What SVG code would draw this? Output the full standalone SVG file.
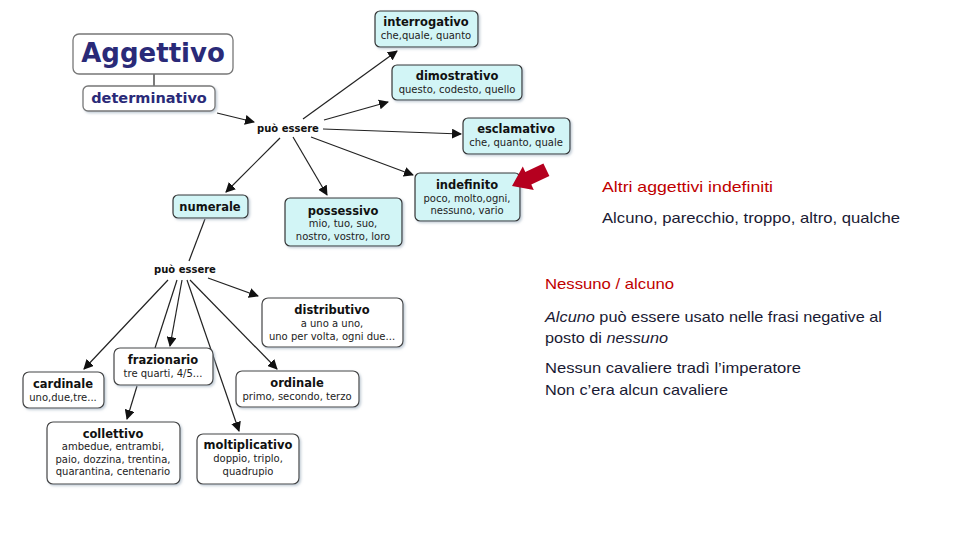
<svg xmlns="http://www.w3.org/2000/svg" width="960" height="540" viewBox="0 0 960 540">
<defs>
<marker id="ah" viewBox="0 0 10 10" refX="9" refY="5" markerWidth="10" markerHeight="10" markerUnits="userSpaceOnUse" orient="auto">
<path d="M0,0 L10,5 L0,10 z" fill="#111"/>
</marker>
<filter id="sh" x="-10%" y="-10%" width="130%" height="140%">
<feDropShadow dx="1.5" dy="1.5" stdDeviation="1" flood-color="#9ab" flood-opacity="0.6"/>
</filter>
</defs>
<style>
.cy{fill:#d2f5f6;stroke:#333;stroke-width:1.2}
.wh{fill:#fff;stroke:#444;stroke-width:1.2}
.t{font-family:"DejaVu Sans",Verdana,sans-serif;font-weight:bold;font-size:11.5px;fill:#111;text-anchor:middle}
.s{font-family:"DejaVu Sans",Verdana,sans-serif;font-size:10px;fill:#222;text-anchor:middle}
.pe{font-family:"DejaVu Sans",Verdana,sans-serif;font-weight:bold;font-size:10px;fill:#111;text-anchor:middle}
.c line,.c path{stroke:#222;stroke-width:1.2;fill:none}
.a{marker-end:url(#ah)}
.r{font-family:"Liberation Sans",Arial,sans-serif;font-size:15px;fill:#1a1a33}
.red{fill:#c00000}
</style>
<rect width="960" height="540" fill="#fff"/>

<g id="connectors" class="c">
<line x1="154" y1="74" x2="154" y2="86"/>
<line class="a" x1="217" y1="113" x2="254" y2="122"/>
<line class="a" x1="303" y1="119" x2="397" y2="51"/>
<line class="a" x1="324" y1="120" x2="388" y2="102"/>
<line class="a" x1="323" y1="129" x2="461" y2="134"/>
<line class="a" x1="311" y1="137" x2="413" y2="175"/>
<line class="a" x1="280" y1="138" x2="226" y2="192"/>
<line class="a" x1="293" y1="137" x2="327" y2="195"/>
<line x1="205" y1="219" x2="189" y2="261"/>
<line class="a" x1="208" y1="278" x2="258" y2="296"/>
<line class="a" x1="168" y1="280" x2="84" y2="369"/>
<line class="a" x1="182" y1="280" x2="170" y2="346"/>
<line x1="177" y1="280" x2="155" y2="348"/>
<line class="a" x1="137" y1="386" x2="127" y2="419"/>
<line class="a" x1="187" y1="280" x2="239" y2="431"/>
<line class="a" x1="190" y1="280" x2="277" y2="369"/>
</g>

<g id="aggettivo">
<rect x="73" y="34" width="160" height="40" rx="6" fill="#fff" stroke="#777" stroke-width="1.3"/>
<text x="153" y="62" text-anchor="middle" font-family="DejaVu Sans,Verdana,sans-serif" font-weight="bold" font-size="26" fill="#2a2a78">Aggettivo</text>
</g>
<g id="determinativo">
<rect x="83" y="86" width="132" height="25" rx="5" fill="#fff" stroke="#777" stroke-width="1.3" filter="url(#sh)"/>
<text x="149" y="103" text-anchor="middle" font-family="DejaVu Sans,Verdana,sans-serif" font-weight="bold" font-size="14.5" fill="#2a2a78">determinativo</text>
</g>
<g id="puo-essere-1"><text class="pe" x="288" y="132">può essere</text></g>

<g id="interrogativo">
<rect class="cy" x="375" y="11" width="103" height="36" rx="5" filter="url(#sh)"/>
<text class="t" x="426" y="26">interrogativo</text>
<text class="s" x="426" y="39">che,quale, quanto</text>
</g>
<g id="dimostrativo">
<rect class="cy" x="392" y="65" width="130" height="35" rx="5" filter="url(#sh)"/>
<text class="t" x="457" y="80">dimostrativo</text>
<text class="s" x="457" y="93">questo, codesto, quello</text>
</g>
<g id="esclamativo">
<rect class="cy" x="463" y="118" width="107" height="36" rx="5" filter="url(#sh)"/>
<text class="t" x="516" y="133">esclamativo</text>
<text class="s" x="516" y="146">che, quanto, quale</text>
</g>
<g id="indefinito">
<rect class="cy" x="415" y="173" width="105" height="48" rx="5" filter="url(#sh)"/>
<text class="t" x="467" y="189">indefinito</text>
<text class="s" x="467" y="202">poco, molto,ogni,</text>
<text class="s" x="467" y="214">nessuno, vario</text>
</g>
<g id="numerale">
<rect class="cy" x="173" y="195" width="75" height="23" rx="5" filter="url(#sh)"/>
<text class="t" x="210" y="211">numerale</text>
</g>
<g id="possessivo">
<rect class="cy" x="285" y="198" width="117" height="48" rx="5" filter="url(#sh)"/>
<text class="t" x="343" y="215">possessivo</text>
<text class="s" x="343" y="227">mio, tuo, suo,</text>
<text class="s" x="343" y="240">nostro, vostro, loro</text>
</g>

<g id="puo-essere-2"><text class="pe" x="185" y="273">può essere</text></g>

<g id="distributivo">
<rect class="wh" x="262" y="298" width="141" height="49" rx="6" filter="url(#sh)"/>
<text class="t" x="332" y="314">distributivo</text>
<text class="s" x="332" y="327">a uno a uno,</text>
<text class="s" x="332" y="340">uno per volta, ogni due...</text>
</g>
<g id="frazionario">
<rect class="wh" x="114" y="348" width="99" height="37" rx="6" filter="url(#sh)"/>
<text class="t" x="163" y="364">frazionario</text>
<text class="s" x="163" y="377">tre quarti, 4/5...</text>
</g>
<g id="cardinale">
<rect class="wh" x="23" y="372" width="81" height="36" rx="6" filter="url(#sh)"/>
<text class="t" x="63" y="388">cardinale</text>
<text class="s" x="63" y="401">uno,due,tre...</text>
</g>
<g id="ordinale">
<rect class="wh" x="236" y="371" width="123" height="36" rx="6" filter="url(#sh)"/>
<text class="t" x="297" y="387">ordinale</text>
<text class="s" x="297" y="400">primo, secondo, terzo</text>
</g>
<g id="collettivo">
<rect class="wh" x="47" y="422" width="133" height="62" rx="6" filter="url(#sh)"/>
<text class="t" x="113" y="438">collettivo</text>
<text class="s" x="113" y="450">ambedue, entrambi,</text>
<text class="s" x="113" y="463">paio, dozzina, trentina,</text>
<text class="s" x="113" y="475">quarantina, centenario</text>
</g>
<g id="moltiplicativo">
<rect class="wh" x="197" y="434" width="102" height="50" rx="6" filter="url(#sh)"/>
<text class="t" x="248" y="449">moltiplicativo</text>
<text class="s" x="248" y="462">doppio, triplo,</text>
<text class="s" x="248" y="475">quadrupio</text>
</g>

<g id="red-arrow">
<polygon points="512,186 533.8,190.1 531.3,184.6 549.4,176.1 543.4,163.5 525.3,172 522.8,166.5" fill="#b5001f"/>
</g>

<g id="notes">
<text class="r red" x="602" y="192" textLength="171" lengthAdjust="spacingAndGlyphs">Altri aggettivi indefiniti</text>
<text class="r" x="602" y="223" textLength="298" lengthAdjust="spacingAndGlyphs">Alcuno, parecchio, troppo, altro, qualche</text>
<text class="r red" x="545" y="289" textLength="129" lengthAdjust="spacingAndGlyphs">Nessuno / alcuno</text>
<text class="r" x="545" y="322" textLength="337" lengthAdjust="spacingAndGlyphs"><tspan font-style="italic">Alcuno</tspan> può essere usato nelle frasi negative al</text>
<text class="r" x="545" y="343" textLength="123" lengthAdjust="spacingAndGlyphs">posto di <tspan font-style="italic">nessuno</tspan></text>
<text class="r" x="545" y="373" textLength="256" lengthAdjust="spacingAndGlyphs">Nessun cavaliere tradì l’imperatore</text>
<text class="r" x="545" y="395" textLength="183" lengthAdjust="spacingAndGlyphs">Non c’era alcun cavaliere</text>
</g>
</svg>
